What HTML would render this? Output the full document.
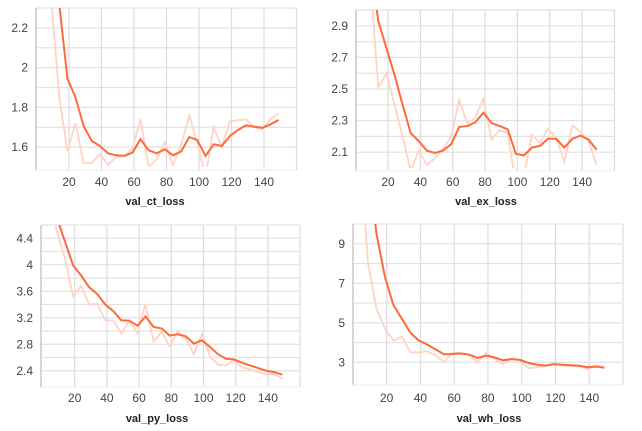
<!DOCTYPE html>
<html><head><meta charset="utf-8"><style>
html,body{margin:0;padding:0;background:#fff;}
svg{display:block;font-family:"Liberation Sans",sans-serif;}
</style></head><body>
<svg id="chart" width="642" height="431" viewBox="0 0 642 431"></svg>
<script>
const epochs = [4,9,14,19,24,29,34,39,44,49,54,59,64,69,74,79,84,89,94,99,104,109,114,119,124,129,134,139,144,149];
const ctSmooth = [3.0,2.7,2.32,1.945,1.85,1.707,1.631,1.606,1.569,1.559,1.556,1.572,1.64,1.584,1.569,1.589,1.559,1.578,1.651,1.635,1.556,1.614,1.606,1.656,1.686,1.71,1.703,1.697,1.715,1.737];
const ctRaw = [3.0,2.35,1.85,1.58,1.72,1.52,1.52,1.565,1.51,1.55,1.555,1.59,1.74,1.5,1.54,1.625,1.51,1.61,1.76,1.62,1.45,1.7,1.6,1.73,1.735,1.74,1.7,1.69,1.74,1.77];
const exSmooth = [3.6,3.3,2.93,2.76,2.59,2.4,2.22,2.17,2.11,2.095,2.11,2.15,2.26,2.265,2.29,2.35,2.285,2.265,2.245,2.09,2.08,2.13,2.14,2.185,2.185,2.13,2.185,2.205,2.18,2.115];
const exRaw = [3.6,3.2,2.51,2.6,2.4,2.2,1.98,2.11,2.02,2.06,2.12,2.2,2.43,2.28,2.32,2.44,2.18,2.24,2.22,1.9,1.95,2.21,2.16,2.25,2.19,2.04,2.27,2.23,2.17,2.02];
const pySmooth = [5.2,4.7,4.35,3.99,3.84,3.66,3.56,3.4,3.3,3.16,3.155,3.08,3.22,3.06,3.04,2.93,2.95,2.92,2.81,2.86,2.76,2.65,2.58,2.57,2.52,2.48,2.44,2.4,2.38,2.34];
const pyRaw = [5.0,4.5,4.1,3.52,3.68,3.4,3.41,3.16,3.16,2.96,3.15,2.97,3.41,2.84,2.99,2.77,2.99,2.88,2.65,2.96,2.62,2.49,2.48,2.56,2.45,2.42,2.38,2.35,2.35,2.28];
const whSmooth = [18,13,9.5,7.3,5.9,5.2,4.5,4.1,3.9,3.65,3.4,3.42,3.45,3.38,3.22,3.33,3.24,3.1,3.16,3.12,2.96,2.88,2.83,2.9,2.87,2.85,2.82,2.75,2.78,2.73];
const whRaw = [14,8.0,5.7,4.7,4.1,4.3,3.5,3.5,3.55,3.35,3.0,3.5,3.45,3.35,3.0,3.5,3.15,2.9,3.2,3.1,2.7,2.75,2.8,2.95,2.85,2.8,2.8,2.65,2.85,2.7];
const xTicks = [20,40,60,80,100,120,140];
const ctTicks = ["1.6","1.8","2","2.2"];
const exTicks = ["2.1","2.3","2.5","2.7","2.9"];
const pyTicks = ["2.4","2.8","3.2","3.6","4","4.4"];
const whTicks = ["3","5","7","9"];

const NS="http://www.w3.org/2000/svg";
const svg=document.getElementById('chart');
function mk(tag,attrs,parent){const e=document.createElementNS(NS,tag);for(const k in attrs)e.setAttribute(k,attrs[k]);(parent||svg).appendChild(e);return e;}

const panels=[
 {id:'ct',title:'val_ct_loss',x0:36.5,k:1.625,L:36,R:296,T:8,B:167,ymin:1.5,ymax:2.3,gstep:0.1,ticks:ctTicks,smooth:ctSmooth,raw:ctRaw,tx:155,xl:182,ty:201},
 {id:'ex',title:'val_ex_loss',x0:355.7,k:1.617,L:356,R:614,T:10,B:168,ymin:2.0,ymax:3.0,gstep:0.1,ticks:exTicks,smooth:exSmooth,raw:exRaw,tx:486,xl:182,ty:201},
 {id:'py',title:'val_py_loss',x0:42.5,k:1.61,L:41,R:300,T:225,B:384,ymin:2.2,ymax:4.6,gstep:0.2,ticks:pyTicks,smooth:pySmooth,raw:pyRaw,tx:157,xl:398,ty:418},
 {id:'wh',title:'val_wh_loss',x0:352.9,k:1.688,L:353,R:622,T:224,B:382,ymin:2,ymax:10,gstep:1,ticks:whTicks,smooth:whSmooth,raw:whRaw,tx:489,xl:398,ty:418}
];
panels.forEach(p=>{
 const g=mk('g',{});
 
 
 const xs=v=>p.x0+v*p.k;
 const ys=v=>p.B-(v-p.ymin)/(p.ymax-p.ymin)*(p.B-p.T);
 const n=Math.round((p.ymax-p.ymin)/p.gstep);
 for(let i=1;i<=n;i++){const y=ys(p.ymin+i*p.gstep);mk('line',{x1:p.L,x2:p.R,y1:y,y2:y,stroke:'#e2e2e2','stroke-width':1.2},g);}
 for(let v=20;v<=160;v+=20){const x=xs(v);mk('line',{x1:x,x2:x,y1:p.T,y2:p.B+3,stroke:'#dcdcdc','stroke-width':1.2},g);}
 mk('line',{x1:p.L,x2:p.L,y1:p.T,y2:p.B+3,stroke:'#c8c8c8','stroke-width':1.5},g);
 mk('line',{x1:p.L,x2:p.R,y1:p.B+3,y2:p.B+3,stroke:'#eeeeee','stroke-width':1},g);
 p.ticks.forEach(t=>{const tx=mk('text',{x:p.L-8,y:ys(parseFloat(t))+4,'text-anchor':'end','font-size':12,fill:'#444'},g);tx.textContent=t;
  
  });
 xTicks.forEach(t=>{const tx=mk('text',{x:xs(t),y:p.xl+4,'text-anchor':'middle','font-size':12,fill:'#444'},g);tx.textContent=t;
  
  });
 const cp=mk('clipPath',{id:'clip-'+p.id},g);
 mk('rect',{x:p.L,y:p.T,width:p.R-p.L,height:p.B-p.T},cp);
 const path=arr=>arr.map((v,i)=>(i?'L':'M')+xs(epochs[i]).toFixed(1)+','+ys(v).toFixed(1)).join('');
 const r=mk('path',{d:path(p.raw),fill:'none',stroke:'#ffd3c6','stroke-width':1.8,'clip-path':'url(#clip-'+p.id+')'},g);
 
 
 const s=mk('path',{d:path(p.smooth),fill:'none',stroke:'#fd6a3c','stroke-width':2,'clip-path':'url(#clip-'+p.id+')'},g);
 
 
 const ti=mk('text',{x:p.tx,y:p.ty+4,'text-anchor':'middle','font-size':11,'font-weight':'bold',fill:'#222'},g);
 ti.textContent=p.title;
 
 
});
</script>
</body></html>
